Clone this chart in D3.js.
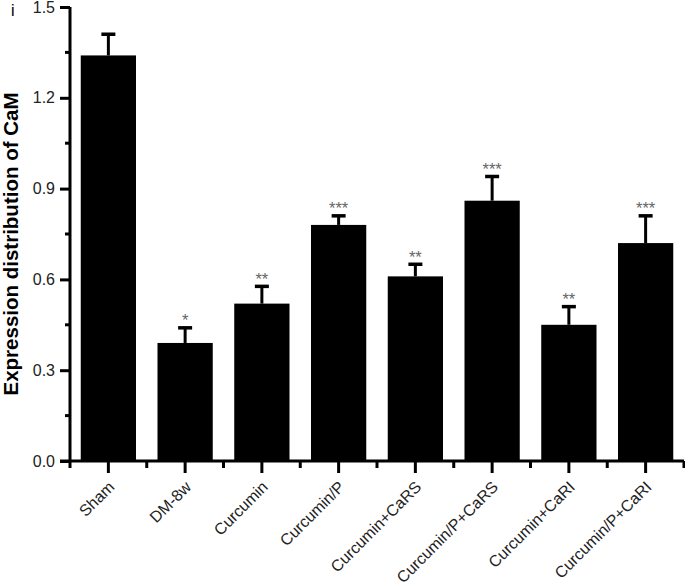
<!DOCTYPE html>
<html>
<head>
<meta charset="utf-8">
<script src="https://cdn.jsdelivr.net/npm/d3@7"></script>
<style>
  body { margin: 0; background: #fff; }
  svg { display: block; font-family: "Liberation Sans", Arial, sans-serif; }
</style>
</head>
<body>
<div class="chart-container"></div>
<script>
"use strict";

// Groups, mean values and upper error (SD)
const groups = ["Sham", "DM-8w", "Curcumin", "Curcumin/P", "Curcumin+CaRS",
  "Curcumin/P+CaRS", "Curcumin+CaRI", "Curcumin/P+CaRI"];
const means = [1.34, 0.39, 0.52, 0.78, 0.61, 0.86, 0.45, 0.72];
const errors = [0.07, 0.05, 0.057, 0.03, 0.04, 0.08, 0.06, 0.09];
const stars = ["", "*", "**", "***", "**", "***", "**", "***"];
const yTicks = [0.0, 0.3, 0.6, 0.9, 1.2, 1.5];

const data = groups.map((g, i) => ({
  group: g,
  mean: means[i],
  err: errors[i],
  star: stars[i]
}));

drawChart(data);

function drawChart(data) {
  const width = 685;
  const height = 583;
  const left = 70;
  const right = 684;
  const top = 7;
  const bottom = 461;
  const font = "'Liberation Sans', Arial, sans-serif";

  const svg = d3.select(".chart-container")
    .append("svg")
      .attr("width", width)
      .attr("height", height);

  // Scales
  const xScale = d3.scaleBand()
    .domain(groups)
    .range([left, right])
    .padding(0);

  const yScale = d3.scaleLinear()
    .domain([0, 1.5])
    .range([bottom, top]);

  const barWidth = xScale.bandwidth() * 0.72;
  const center = d => xScale(d) + xScale.bandwidth() / 2;

  // Bars
  svg.selectAll("rect.bar")
    .data(data)
    .join("rect")
      .attr("class", "bar")
      .attr("x", d => center(d.group) - barWidth / 2)
      .attr("y", d => yScale(d.mean))
      .attr("width", barWidth)
      .attr("height", d => yScale(0) - yScale(d.mean))
      .attr("fill", "#000");

  // Upper error bars
  const errs = svg.selectAll("g.err")
    .data(data)
    .join("g")
      .attr("class", "err");

  errs.append("line")
    .attr("x1", d => center(d.group))
    .attr("x2", d => center(d.group))
    .attr("y1", d => yScale(d.mean))
    .attr("y2", d => yScale(d.mean + d.err))
    .attr("stroke", "#000")
    .attr("stroke-width", 3);

  errs.append("line")
    .attr("x1", d => center(d.group) - 7)
    .attr("x2", d => center(d.group) + 7)
    .attr("y1", d => yScale(d.mean + d.err))
    .attr("y2", d => yScale(d.mean + d.err))
    .attr("stroke", "#000")
    .attr("stroke-width", 3.5);

  // Significance stars
  svg.selectAll("text.star")
    .data(data)
    .join("text")
      .attr("class", "star")
      .attr("x", d => center(d.group))
      .attr("y", d => yScale(d.mean + d.err) - 1.5)
      .attr("text-anchor", "middle")
      .attr("font-size", 16.5)
      .attr("fill", "#666")
      .text(d => d.star);

  // Y axis
  const yAxis = d3.axisLeft(yScale)
    .tickValues(yTicks)
    .tickFormat(d3.format(".1f"))
    .tickSize(10)
    .tickSizeOuter(0)
    .tickPadding(5);

  const gy = svg.append("g")
    .attr("class", "axis-y")
    .attr("transform", `translate(${left}, 0)`)
    .attr("font-family", font)
    .call(yAxis);

  gy.select(".domain")
    .attr("d", `M0,${top}V${bottom + 7}`)
    .attr("stroke-width", 3);
  gy.selectAll(".tick line").attr("stroke-width", 3);
  gy.selectAll(".tick text")
    .attr("font-size", 16)
    .attr("fill", "#222");

  // Minor y ticks
  gy.selectAll("line.minor")
    .data(d3.range(0.15, 1.5, 0.3))
    .join("line")
      .attr("class", "minor")
      .attr("x1", -5)
      .attr("x2", 0)
      .attr("y1", d => yScale(d))
      .attr("y2", d => yScale(d))
      .attr("stroke", "#000")
      .attr("stroke-width", 3);

  // X axis
  const xAxis = d3.axisBottom(xScale)
    .tickSize(12)
    .tickSizeOuter(0);

  const gx = svg.append("g")
    .attr("class", "axis-x")
    .attr("transform", `translate(0, ${bottom})`)
    .attr("font-family", font)
    .call(xAxis);

  gx.select(".domain")
    .attr("d", `M${left - 10},0H${right}`)
    .attr("stroke-width", 3);
  gx.selectAll(".tick line").attr("stroke-width", 3);
  gx.selectAll(".tick text")
    .attr("font-size", 16)
    .attr("fill", "#222")
    .attr("text-anchor", "end")
    .attr("y", 0)
    .attr("dy", null)
    .attr("transform", "translate(7, 27) rotate(-45)");

  // Minor x ticks at band edges
  gx.selectAll("line.minor")
    .data(groups.slice(1).concat([null]))
    .join("line")
      .attr("class", "minor")
      .attr("x1", d => d ? xScale(d) : right)
      .attr("x2", d => d ? xScale(d) : right)
      .attr("y1", 0)
      .attr("y2", 7)
      .attr("stroke", "#000")
      .attr("stroke-width", 3);

  // Axis title
  svg.append("text")
    .attr("transform", "translate(18, 244) rotate(-90)")
    .attr("text-anchor", "middle")
    .attr("font-size", 20.5)
    .attr("font-weight", "bold")
    .attr("fill", "#000")
    .text("Expression distribution of CaM");

  // Panel letter
  svg.append("text")
    .attr("x", 11)
    .attr("y", 16)
    .attr("font-size", 16)
    .attr("fill", "#000")
    .text("i");
}
</script>
</body>
</html>
